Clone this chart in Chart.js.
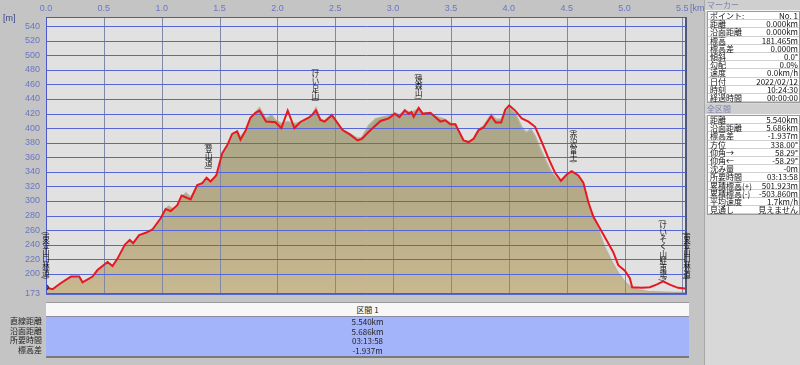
<!DOCTYPE html>
<html><head><meta charset="utf-8">
<script src="https://cdn.jsdelivr.net/npm/chart.js@4"></script>
<style>
html,body{margin:0;padding:0;}
body{width:800px;height:365px;overflow:hidden;background:#c4c4c4;position:relative;font-family:"Noto Sans CJK JP","Liberation Sans",sans-serif;}
#wrap{position:absolute;left:0;top:0;width:692px;height:305px;}
.abs{position:absolute;}
#yunit{left:3px;top:13px;font:9px "Liberation Sans";color:#3a4488;}
#xunit{left:690px;top:3px;font:9px "Liberation Sans";color:#6470c0;}
#band{left:46px;top:302px;width:643px;height:13px;background:#f7f7f7;border-top:1px solid #9a9a9a;font-size:8px;line-height:13px;text-align:center;color:#222;}
#sum{left:46px;top:316px;width:643px;height:39px;background:#a4b4fa;border-top:1px solid #8a8aa0;border-bottom:2px solid #7a7a7a;font-size:8px;text-align:center;color:#222;}
#sumlab{left:0px;top:316px;width:42px;font-size:8px;text-align:right;color:#222;}
#sum div,#sumlab div{height:9.6px;line-height:9.6px;}
#panel{left:704px;top:0;width:96px;height:365px;background:#d8d8d8;border-left:1px solid #a8a8a8;}
.hdr{position:absolute;left:0;width:95px;height:10px;font-size:8px;line-height:10px;color:#7a80a8;padding-left:2px;border-bottom:1px solid #f4f4f4;background:#cfcfcf;}
.tbl{position:absolute;left:2px;width:91px;background:#fff;border:1px solid #9c9c9c;}
.row{height:8.2px;line-height:8.2px;font-size:8px;color:#111;border-bottom:1px solid #d0d0d0;box-sizing:border-box;display:flex;justify-content:space-between;padding:0 1px 0 2px;white-space:nowrap;}
</style></head><body>
<div id="wrap"><canvas id="c"></canvas></div>
<div id="yunit" class="abs">[m]</div>
<div id="xunit" class="abs">[km]</div>
<div id="band" class="abs"></div>
<div id="sum" class="abs"></div>
<div id="sumlab" class="abs"></div>
<div id="panel" class="abs">
  <div class="hdr" id="h1" style="top:0"></div>
  <div class="tbl" id="t1" style="top:11px"></div>
  <div class="hdr" id="h2" style="top:104px"></div>
  <div class="tbl" id="t2" style="top:115px"></div>
</div>
<script>
// ---- data ----
const trackKm=[0,0.057,0.129,0.216,0.287,0.316,0.402,0.445,0.532,0.575,0.618,0.681,0.724,0.753,0.805,0.862,0.920,0.991,1.034,1.078,1.135,1.172,1.250,1.307,1.351,1.388,1.422,1.471,1.523,1.566,1.609,1.652,1.681,1.724,1.767,1.810,1.845,1.902,1.983,2.034,2.089,2.147,2.198,2.270,2.299,2.333,2.371,2.408,2.471,2.563,2.629,2.693,2.730,2.790,2.891,2.963,3.015,3.055,3.101,3.135,3.158,3.178,3.221,3.256,3.322,3.408,3.451,3.494,3.538,3.609,3.652,3.696,3.739,3.782,3.848,3.888,3.934,3.969,4.003,4.055,4.112,4.170,4.227,4.285,4.342,4.400,4.451,4.500,4.543,4.601,4.644,4.687,4.730,4.788,4.845,4.903,4.946,5.003,5.046,5.066,5.147,5.219,5.276,5.334,5.391,5.463,5.540];
const trackElev=[181.5,179,187.6,196.4,196.4,188.4,196.4,205.3,216.4,210.7,221,240,246.7,242.2,253.3,256.4,260.9,276.4,288.9,286.2,294.2,307.6,302.2,321.8,324.4,332,326.7,335.1,365.3,376.4,392,395.6,384,396.4,414.2,420.9,424,408.9,408,400,424,400,408.4,414.2,417.8,424.4,411.1,408.9,417.8,397.3,391.1,383.1,385.3,395,409.8,413.3,419.6,415.1,424.4,419.6,422.2,415.6,427.6,419.6,420.9,408.9,410.7,405.3,405.3,383.1,380.9,385.3,397.3,400.9,416.4,407.6,407.6,425.3,431.1,424,413.3,408.9,401.8,380.9,358.7,338.7,327.6,336.4,340.9,335.1,325.3,298.7,278.7,262.2,246.2,229.8,212,204.4,194.2,181.8,180.9,181.8,185.3,189.8,185.3,180.9,179.5];
const terrainKm=[0,0.057,0.129,0.216,0.287,0.316,0.402,0.445,0.532,0.575,0.618,0.681,0.724,0.753,0.805,0.862,0.920,0.991,1.034,1.060,1.100,1.135,1.172,1.210,1.250,1.307,1.351,1.388,1.422,1.471,1.523,1.566,1.609,1.652,1.681,1.724,1.767,1.810,1.845,1.902,1.950,1.983,2.034,2.089,2.147,2.198,2.270,2.299,2.333,2.371,2.408,2.471,2.563,2.629,2.693,2.730,2.790,2.850,2.900,2.963,3.015,3.055,3.101,3.158,3.221,3.256,3.322,3.360,3.408,3.451,3.494,3.538,3.609,3.652,3.696,3.739,3.782,3.848,3.888,3.934,3.969,4.003,4.055,4.110,4.150,4.190,4.230,4.260,4.300,4.370,4.420,4.451,4.500,4.543,4.601,4.644,4.687,4.720,4.780,4.830,4.890,4.946,5.003,5.050,5.120,5.200,5.350,5.540];
const terrainElev=[181,179,187,195,194,189,195,203,214,211,219,236,244,242,251,255,260,274,289,293,289,294,306,311,305,320,324,331,327,334,362,375,390,396,388,396,414,421,428,413,418,411,406,409,406,408,414,418,428,413,410,419,398,392,386,387,404,413,415,417,421,418,424,421,427,421,421,417,414,412,407,405,383,381,386,398,403,419,412,412,424,428,420,402,394,399,388,376,362,339,330,329,336,341,335,324,296,281,258,236,217,201,189,182,178,176,175,174];
const xTickValues=[0,0.5,1,1.5,2,2.5,3,3.5,4,4.5,5,5.5];
const yTickValues=[173,200,220,240,260,280,300,320,340,360,380,400,420,440,460,480,500,520,540];
const waypointNames=["東金山口林道","登山道","けい足山","焼森山","赤沢富士","けいそく山駐車場","東金山口林道"];
const waypointKm=[0,1.407,2.329,3.222,4.558,5.334,5.54];
const waypointElev=[181.5,332,425,428,341,179,181];
const summaryLabels=["直線距離","沿面距離","所要時間","標高差"];
const summaryValues=["5.540km","5.686km","03:13:58","-1.937m"];
const sectionTitle="区間 1";
const markerTitle="マーカー";
const markerLabels=["ポイント:","距離","沿面距離","標高","標高差","傾斜","勾配","速度","日付","時刻","経過時間"];
const markerValues=["No. 1","0.000km","0.000km","181.465m","0.000m","0.0°","0.0%","0.0km/h","2022/02/12","10:24:30","00:00:00"];
const totalTitle="全区間";
const totalLabels=["距離","沿面距離","標高差","方位","仰角→","仰角←","沈み量","所要時間","累積標高(+)","累積標高(-)","平均速度","見通し"];
const totalValues=["5.540km","5.686km","-1.937m","338.00°","58.29°","-58.29°","-0m","03:13:58","501.923m","-503.860m","1.7km/h","見えません"];
const yMin=173, yMax=552.4, xMin=0, xMax=5.54;

// ---- DOM text ----
document.getElementById('band').textContent=sectionTitle;
document.getElementById('sum').innerHTML=summaryValues.map(v=>'<div>'+v+'</div>').join('');
document.getElementById('sumlab').innerHTML=summaryLabels.map(v=>'<div>'+v+'</div>').join('');
document.getElementById('h1').textContent=markerTitle;
document.getElementById('h2').textContent=totalTitle;
function fillTbl(id,labs,vals){document.getElementById(id).innerHTML=labs.map((l,i)=>'<div class="row"><span>'+l+'</span><span>'+vals[i]+'</span></div>').join('');}
fillTbl('t1',markerLabels,markerValues);
fillTbl('t2',totalLabels,totalValues);

const trackPts=trackKm.map((k,i)=>({x:k,y:trackElev[i]}));
const terrainPts=terrainKm.map((k,i)=>({x:k,y:terrainElev[i]}));

const bgPlugin={id:'bg',beforeDraw(chart){const {ctx,chartArea:a}=chart;ctx.save();ctx.fillStyle='#e1e1e1';ctx.fillRect(a.left,a.top,a.right-a.left,a.bottom-a.top);ctx.restore();}};
function drawGrid(chart){
  const {ctx,chartArea:a,scales}=chart;ctx.save();ctx.lineWidth=1;
  ctx.strokeStyle='#8088a4';
  xTickValues.forEach(v=>{if(v<=xMin)return;const px=Math.round(scales.x.getPixelForValue(v))+0.5;ctx.beginPath();ctx.moveTo(px,a.top);ctx.lineTo(px,a.bottom);ctx.stroke();});
  ctx.strokeStyle='#5766d6';
  yTickValues.forEach(v=>{const py=Math.round(scales.y.getPixelForValue(v))+0.5;ctx.beginPath();ctx.moveTo(a.left,py);ctx.lineTo(a.right,py);ctx.stroke();});
  ctx.restore();
}
const gridPlugin={id:'gridOver',beforeDatasetDraw(chart,args){if(args.index===0)drawGrid(chart);},
  afterDatasetsDraw(chart){const {ctx,chartArea:a}=chart;ctx.save();ctx.strokeStyle='#4a58cc';ctx.lineWidth=1;ctx.strokeRect(Math.round(a.left)+0.5,Math.round(a.top)+0.5,Math.round(a.right-a.left)-1,Math.round(a.bottom-a.top)-1);
    ctx.strokeStyle='#50587a';ctx.lineWidth=2;ctx.beginPath();ctx.moveTo(a.right-1,a.top);ctx.lineTo(a.right-1,a.bottom);ctx.stroke();ctx.restore();}};
const labelPlugin={id:'wp',afterDatasetsDraw(chart){
  const {ctx,scales}=chart;ctx.save();ctx.fillStyle='#111';
  const fs=7.5;ctx.font=fs+'px "Noto Sans CJK JP"';ctx.textAlign='center';ctx.textBaseline='middle';
  waypointNames.forEach((n,i)=>{
    const chars=['(' ,...Array.from(n),')'];
    const adv=chars.map(c=>(c==='('||c===')')?ctx.measureText(c).width:fs*0.95);
    const total=adv.reduce((s,v)=>s+v,0);
    const px=scales.x.getPixelForValue(waypointKm[i]);
    const bottom=scales.y.getPixelForValue(waypointElev[i])-8;
    let y=bottom-total;
    chars.forEach((c,j)=>{const cy=y+adv[j]/2;
      if(c==='('||c===')'){ctx.save();ctx.translate(px,cy);ctx.rotate(Math.PI/2);ctx.fillText(c,0,0);ctx.restore();}
      else ctx.fillText(c,px,cy);
      y+=adv[j];});
  });
  ctx.restore();}};

new Chart(document.getElementById('c'),{
  type:'line',
  data:{datasets:[
    {label:'track',data:trackPts,borderColor:'#e81820',borderWidth:2,fill:false,tension:0,order:0,
      pointRadius:ctx=>ctx.dataIndex===0?2.5:0,pointBackgroundColor:'#e81820',pointBorderColor:'#222',pointBorderWidth:1},
    {label:'terrain',data:terrainPts,borderColor:'#b4b29c',borderWidth:1.5,pointRadius:0,tension:0,order:1,fill:'start',
      backgroundColor:ctx=>{const c=ctx.chart,a=c.chartArea;if(!a)return '#b0a888';const g=c.ctx.createLinearGradient(0,a.top,0,a.bottom);g.addColorStop(0,'#a6a88e');g.addColorStop(0.35,'#aaa78a');g.addColorStop(0.65,'#b4aa88');g.addColorStop(1,'#c8b890');return g;}}
  ]},
  options:{responsive:true,maintainAspectRatio:false,animation:false,
    layout:{padding:{left:0,top:0,right:3,bottom:4}},
    plugins:{legend:{display:false},tooltip:{enabled:false}},
    scales:{
      x:{type:'linear',position:'top',min:xMin,max:xMax,
        afterBuildTicks:s=>{s.ticks=xTickValues.map(v=>({value:v}));},
        afterFit:s=>{s.height=17;},
        grid:{display:false,drawTicks:false},border:{display:false},
        ticks:{padding:3,maxRotation:0,autoSkip:false,color:'#6a76c4',font:{family:'Liberation Sans',size:9},callback:v=>Number(v).toFixed(1)}},
      y:{type:'linear',min:yMin,max:yMax,
        afterBuildTicks:s=>{s.ticks=yTickValues.map(v=>({value:v}));},
        afterFit:s=>{s.width=46;},
        grid:{display:false,drawTicks:false},border:{display:false},
        ticks:{padding:6,autoSkip:false,color:'#6a76c4',font:{family:'Liberation Sans',size:9}}}
    }},
  plugins:[bgPlugin,gridPlugin,labelPlugin]
});
</script>
</body></html>
